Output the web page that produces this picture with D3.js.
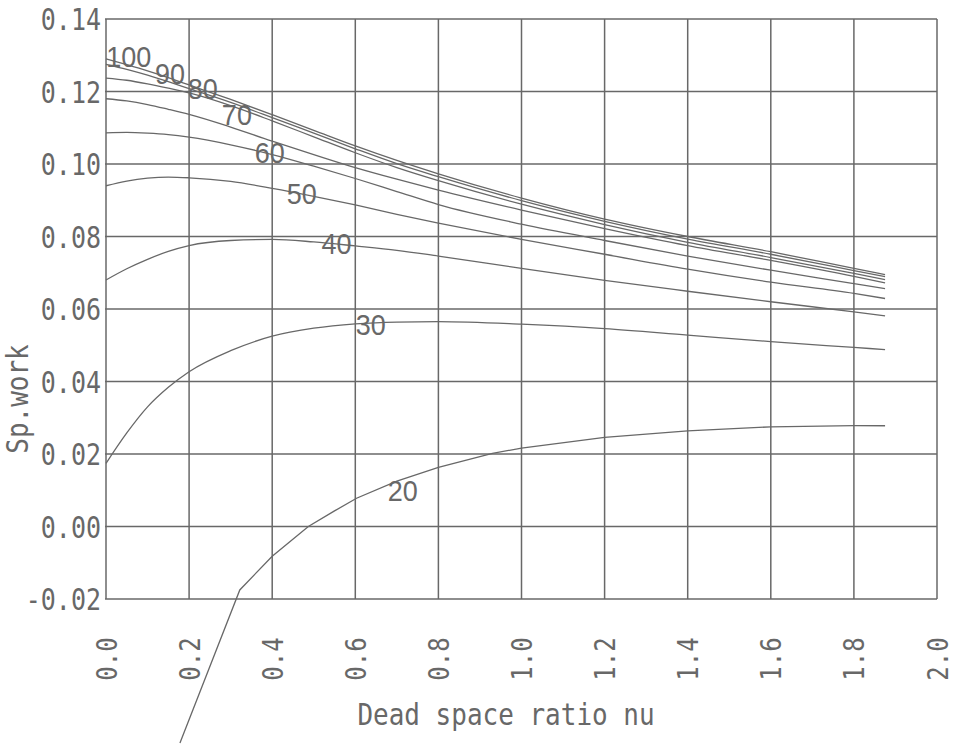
<!DOCTYPE html>
<html>
<head>
<meta charset="utf-8">
<script src="https://cdn.jsdelivr.net/npm/d3@7"></script>
<style>
  html, body { margin: 0; padding: 0; background: #fff; }
  svg { display: block; }
</style>
</head>
<body>
<svg id="chart" width="954" height="748"></svg>
<script>
// ---- data ----
const nuValues = [0, 0.05, 0.1, 0.15, 0.2, 0.3, 0.4, 0.5, 0.6, 0.7, 0.8, 1.0, 1.2, 1.4, 1.6, 1.8, 1.875];
const curve100 = [0.1290, 0.1274, 0.1257, 0.1238, 0.1218, 0.1178, 0.1136, 0.1093, 0.1050, 0.1010, 0.0973, 0.0906, 0.0848, 0.0800, 0.0758, 0.0712, 0.0695];
const curve90  = [0.1275, 0.1261, 0.1245, 0.1227, 0.1208, 0.1170, 0.1128, 0.1085, 0.1042, 0.1001, 0.0965, 0.0899, 0.0842, 0.0793, 0.0751, 0.0706, 0.0689];
const curve80  = [0.1237, 0.1231, 0.1221, 0.1209, 0.1196, 0.1161, 0.1119, 0.1075, 0.1031, 0.0990, 0.0954, 0.0889, 0.0833, 0.0784, 0.0742, 0.0698, 0.0681];
const curve70  = [0.1180, 0.1174, 0.1164, 0.1151, 0.1137, 0.1102, 0.1063, 0.1026, 0.0990, 0.0958, 0.0928, 0.0873, 0.0822, 0.0775, 0.0734, 0.0690, 0.0672];
const curve60  = [0.1086, 0.1087, 0.1085, 0.1081, 0.1074, 0.1053, 0.1026, 0.0994, 0.0960, 0.0924, 0.0888, 0.0834, 0.0789, 0.0746, 0.0707, 0.0670, 0.0656];
const curve50  = [0.0940, 0.0953, 0.0961, 0.0964, 0.0962, 0.0952, 0.0933, 0.0911, 0.0887, 0.0861, 0.0837, 0.0792, 0.0751, 0.0710, 0.0674, 0.0643, 0.0629];
const curve40  = [0.0680, 0.0711, 0.0737, 0.0759, 0.0775, 0.0789, 0.0792, 0.0785, 0.0774, 0.0762, 0.0746, 0.0712, 0.0679, 0.0649, 0.0620, 0.0592, 0.0581];
const curve30  = [0.0174, 0.0258, 0.0330, 0.0384, 0.0427, 0.0485, 0.0525, 0.0547, 0.0559, 0.0564, 0.0565, 0.0558, 0.0546, 0.0528, 0.0510, 0.0494, 0.0488];
const nu20     = [0.178, 0.322, 0.40, 0.487, 0.55, 0.603, 0.70, 0.80, 0.93, 1.0, 1.2, 1.4, 1.6, 1.8, 1.875];
const curve20  = [-0.0597, -0.0175, -0.0082, 0.0000, 0.0043, 0.0078, 0.0125, 0.0163, 0.0202, 0.0216, 0.0246, 0.0264, 0.0275, 0.0278, 0.0278];

const curveNames = ["100", "90", "80", "70", "60", "50", "40", "30", "20"];
const labelNu    = [0.055, 0.154, 0.233, 0.315, 0.394, 0.471, 0.555, 0.637, 0.714];
const labelSp    = [0.1298, 0.1251, 0.1210, 0.1138, 0.1031, 0.0919, 0.0780, 0.0558, 0.0101];

const xTicks = [0, 0.2, 0.4, 0.6, 0.8, 1.0, 1.2, 1.4, 1.6, 1.8, 2.0];
const yTicks = [-0.02, 0.00, 0.02, 0.04, 0.06, 0.08, 0.10, 0.12, 0.14];
const xTitle = "Dead space ratio nu";
const yTitle = "Sp.work";

// ---- chart ----
const svg = d3.select("#chart");
const ink = "#686868";
const x = d3.scaleLinear().domain([0, 2]).range([106, 937]);
const y = d3.scaleLinear().domain([-0.02, 0.14]).range([599, 19]);

const grid = svg.append("g");
grid.selectAll("line.v").data(xTicks).join("line")
  .attr("x1", d => x(d)).attr("x2", d => x(d))
  .attr("y1", y(0.14)).attr("y2", y(-0.02))
  .attr("stroke", ink).attr("stroke-width", 1.5);
grid.selectAll("line.h").data(yTicks).join("line")
  .attr("y1", d => y(d)).attr("y2", d => y(d))
  .attr("x1", x(0) - 1).attr("x2", x(2))
  .attr("stroke", ink).attr("stroke-width", 1.5);

// axes via d3 axis generators (labels only)
const monoFont = "'DejaVu Sans Mono', 'Liberation Mono', monospace";
const yAxis = svg.append("g").attr("transform", `translate(${x(0)},0)`)
  .call(d3.axisLeft(y).tickValues(yTicks).tickFormat(d3.format(".2f")).tickSize(0).tickPadding(5));
yAxis.select(".domain").remove();
yAxis.selectAll("text")
  .attr("font-family", monoFont).attr("font-size", 25).attr("fill", ink)
  .attr("dy", "0.35em")
  .attr("transform", "scale(1,1.2)")
  .text(d => d3.format(".2f")(d).replace("−", "-"));

const xAxis = svg.append("g").attr("transform", `translate(0,${y(-0.02)})`)
  .call(d3.axisBottom(x).tickValues(xTicks).tickFormat(d3.format(".1f")).tickSize(0));
xAxis.select(".domain").remove();
xAxis.selectAll("text")
  .attr("font-family", monoFont).attr("font-size", 24).attr("fill", ink)
  .attr("text-anchor", "middle")
  .attr("dy", "0.35em").attr("y", 0)
  .attr("transform", "translate(0,60) rotate(-90) scale(1,1.2)");

// curves
const series = [curve100, curve90, curve80, curve70, curve60, curve50, curve40, curve30];
const lineSmooth = d3.line().x(d => x(d[0])).y(d => y(d[1])).curve(d3.curveMonotoneX);
const lineStraight = d3.line().x(d => x(d[0])).y(d => y(d[1]));
const g = svg.append("g");
series.forEach(s => {
  g.append("path").attr("d", lineSmooth(nuValues.map((n, i) => [n, s[i]])))
    .attr("fill", "none").attr("stroke", ink).attr("stroke-width", 1.3);
});
g.append("path").attr("d", lineStraight(nu20.map((n, i) => [n, curve20[i]])))
  .attr("fill", "none").attr("stroke", ink).attr("stroke-width", 1.3);

// curve labels
svg.append("g").selectAll("text").data(curveNames).join("text")
  .attr("transform", (d, i) => `translate(${x(labelNu[i])},${y(labelSp[i])}) scale(1,1.1)`)
  .attr("text-anchor", "middle").attr("dy", "0.36em")
  .attr("font-family", "'Liberation Sans', Arial, sans-serif").attr("font-size", 27)
  .attr("fill", ink)
  .text(d => d);

// titles
svg.append("text").attr("transform", "translate(506,725) scale(1,1.15)")
  .attr("text-anchor", "middle").attr("font-family", monoFont).attr("font-size", 26)
  .attr("fill", ink).text(xTitle);
svg.append("text").attr("transform", "translate(28,399) rotate(-90) scale(1,1.15)")
  .attr("text-anchor", "middle").attr("font-family", monoFont).attr("font-size", 26)
  .attr("fill", ink).text(yTitle);
</script>
</body>
</html>
